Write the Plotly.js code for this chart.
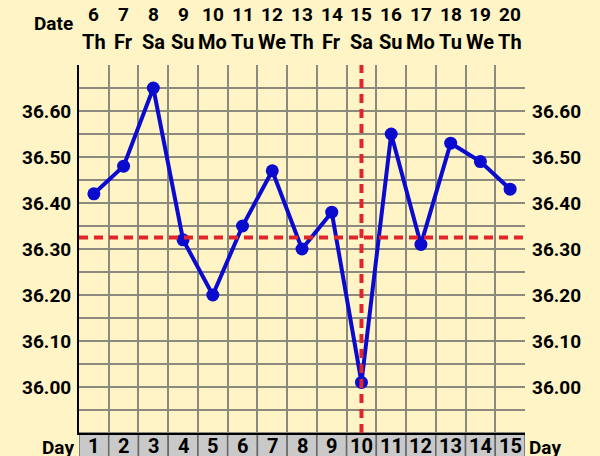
<!DOCTYPE html>
<html>
<head>
<meta charset="utf-8">
<script src="https://cdn.plot.ly/plotly-3.0.1.min.js"></script>
<style>
  html, body { margin: 0; padding: 0; background: #fef4c6; }
  #chart { width: 600px; height: 456px; }
</style>
</head>
<body>
<div id="chart"></div>
<script>
// cycle days and the calendar they map to
var cycleDays = [1, 2, 3, 4, 5, 6, 7, 8, 9, 10, 11, 12, 13, 14, 15];
var dates = ["6", "7", "8", "9", "10", "11", "12", "13", "14", "15", "16", "17", "18", "19", "20"];
var weekdays = ["Th", "Fr", "Sa", "Su", "Mo", "Tu", "We", "Th", "Fr", "Sa", "Su", "Mo", "Tu", "We", "Th"];

// basal temperatures
var temperatures = [36.42, 36.48, 36.65, 36.32, 36.20, 36.35, 36.47, 36.30, 36.38, 36.01, 36.55, 36.31, 36.53, 36.49, 36.43];

var coverLine = 36.325;
var ovulationDay = 10;

var tempTicks = [35.90, 35.95, 36.00, 36.05, 36.10, 36.15, 36.20, 36.25, 36.30, 36.35, 36.40, 36.45, 36.50, 36.55, 36.60, 36.65, 36.70];
var tempLabels = ["", "", "36.00", "", "36.10", "", "36.20", "", "36.30", "", "36.40", "", "36.50", "", "36.60", "", ""];

var bgColor = "#fef4c6";
var gridColor = "#8c8a7e";
var axisFont = { family: "Roboto", size: 19, color: "#000000", weight: "bold" };
var dateFont = { family: "Roboto", size: 19, color: "#000000", weight: "bold" };
var weekdayFont = { family: "Roboto", size: 20, color: "#000000", weight: "bold" };
var dayFont = { family: "Roboto", size: 20, color: "#000000", weight: "bold" };
var redDash = { color: "#e0262b", width: 4, dash: "9px,6px" };

var tempTrace =
{
    x: cycleDays,
    y: temperatures,
    mode: "lines+markers",
    type: "scatter",
    line: { color: "#0b0bd0", width: 4 },
    marker: { color: "#0b0bd0", size: 13 },
    hoverinfo: "skip"
};

var shapes = [];
var cellEdges = [];

// gray cells behind the day numbers
for (var i = 0; i < cycleDays.length; i++)
{
    shapes.push({
        type: "rect", xref: "x", yref: "paper",
        x0: cycleDays[i] - 0.5, x1: cycleDays[i] + 0.5, y0: -0.08, y1: 0,
        fillcolor: "#c9c9c9", line: { color: "#666666", width: 1.5 }, layer: "below"
    });
    cellEdges.push(cycleDays[i] - 0.5);
}
cellEdges.push(cycleDays[cycleDays.length - 1] + 0.5);

shapes.push({
    type: "line", xref: "paper", yref: "y",
    x0: 0, x1: 1, y0: coverLine, y1: coverLine,
    line: redDash
});
shapes.push({
    type: "line", xref: "x", yref: "paper",
    x0: ovulationDay, x1: ovulationDay, y0: 0, y1: 1,
    line: redDash
});

var annotations = [];

for (var i = 0; i < cycleDays.length; i++)
{
    annotations.push({
        x: cycleDays[i], y: 1, xref: "x", yref: "paper", yanchor: "middle", yshift: 51,
        text: dates[i], showarrow: false, font: dateFont
    });
    annotations.push({
        x: cycleDays[i], y: 1, xref: "x", yref: "paper", yanchor: "middle", yshift: 23,
        text: weekdays[i], showarrow: false, font: weekdayFont
    });
    annotations.push({
        x: cycleDays[i], y: 0, xref: "x", yref: "paper", yanchor: "middle", yshift: -13,
        text: String(cycleDays[i]), showarrow: false, font: dayFont
    });
}

annotations.push({
    x: 0, y: 1, xref: "paper", yref: "paper", xanchor: "right", yanchor: "middle", xshift: -4, yshift: 42,
    text: "Date", showarrow: false, font: axisFont
});
annotations.push({
    x: 0, y: 0, xref: "paper", yref: "paper", xanchor: "right", yanchor: "middle", xshift: -3, yshift: -14,
    text: "Day", showarrow: false, font: axisFont
});
annotations.push({
    x: 1, y: 0, xref: "paper", yref: "paper", xanchor: "left", yanchor: "middle", xshift: 2, yshift: -14,
    text: "Day", showarrow: false, font: axisFont
});

var layout =
{
    width: 600,
    height: 456,
    margin: { l: 79, r: 75, t: 65, b: 23 },
    paper_bgcolor: bgColor,
    plot_bgcolor: bgColor,
    showlegend: false,
    font: axisFont,
    xaxis:
    {
        range: [0.5, 15.5],
        tickvals: cycleDays,
        showticklabels: false,
        ticks: "",
        showgrid: false,
        zeroline: false,
        showline: true,
        linecolor: "#000000",
        linewidth: 2,
        minor: { tickvals: cellEdges, showgrid: true, gridcolor: gridColor, gridwidth: 2 },
        fixedrange: true
    },
    yaxis:
    {
        range: [35.90, 36.70],
        tickvals: tempTicks,
        ticktext: tempLabels,
        ticks: "",
        showgrid: true,
        gridcolor: gridColor,
        gridwidth: 2,
        zeroline: false,
        showline: true,
        linecolor: "#000000",
        linewidth: 2,
        ticklabelstandoff: 2,
        fixedrange: true
    },
    yaxis2:
    {
        range: [35.90, 36.70],
        overlaying: "y",
        side: "right",
        tickvals: tempTicks,
        ticktext: tempLabels,
        ticks: "",
        showgrid: false,
        zeroline: false,
        showline: false,
        ticklabelstandoff: 6,
        fixedrange: true
    },
    shapes: shapes,
    annotations: annotations
};

var ghostTrace = { x: [cycleDays[0]], y: [temperatures[0]], yaxis: "y2", mode: "markers", marker: { opacity: 0 }, hoverinfo: "skip" };

Plotly.newPlot("chart", [ghostTrace, tempTrace], layout, { staticPlot: true });
</script>
</body>
</html>
